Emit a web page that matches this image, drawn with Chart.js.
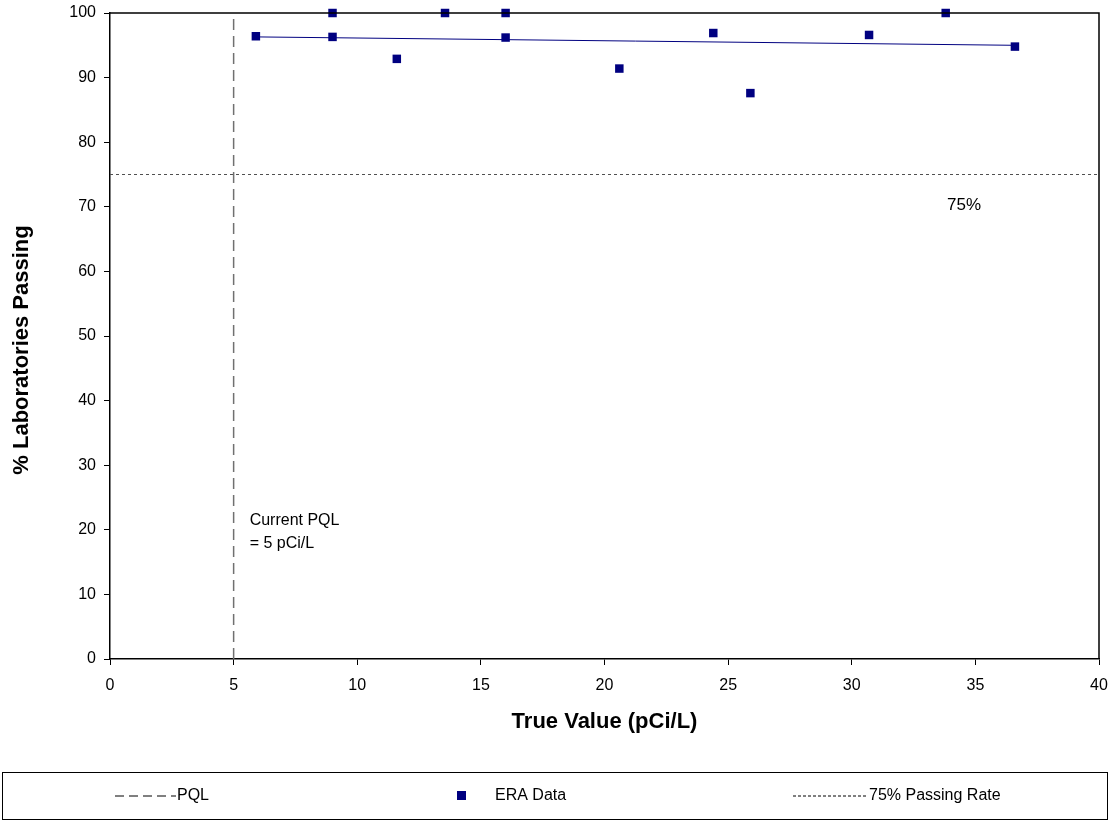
<!DOCTYPE html>
<html>
<head>
<meta charset="utf-8">
<script src="https://cdn.jsdelivr.net/npm/chart.js@4.4.0/dist/chart.umd.min.js"></script>
<style>
  html, body { margin: 0; padding: 0; background: #fff; }
  #wrap { width: 1112px; height: 821px; position: relative; }
</style>
</head>
<body>
<div id="wrap"><canvas id="canvas"></canvas></div>
<script>
  // ---- data ----
  const eraX = [5.9, 9.0, 9.0, 11.6, 13.55, 16.0, 16.0, 20.6, 24.4, 25.9, 30.7, 33.8, 36.6];
  const eraY = [96.4, 100, 96.3, 92.9, 100, 100, 96.2, 91.4, 96.9, 87.6, 96.6, 100, 94.8];
  const trendX = [5.9, 36.6];
  const trendY = [96.3, 95.0];
  const pqlX = [5, 5];
  const pqlY = [0, 100];
  const passX = [0, 40];
  const passY = [75, 75];
  const legendLabels = ['PQL', 'ERA Data', '75% Passing Rate'];
  const yTitle = '% Laboratories Passing';

  const FONT = 'Liberation Sans, Arial, sans-serif';
  const NAVY = '#000080';

  const toPts = (xs, ys) => xs.map((x, i) => ({ x: x, y: ys[i] }));

  // box round plot area, notes, y title and the legend strip at the bottom
  const extras = {
    id: 'extras',
    afterDraw(chart) {
      const c = chart.ctx;
      const a = chart.chartArea;
      const xs = chart.scales.x, ys = chart.scales.y;
      c.save();
      c.strokeStyle = '#000';
      c.lineWidth = 1.5;
      c.beginPath();
      c.moveTo(a.left, a.top);
      c.lineTo(a.right, a.top);
      c.lineTo(a.right, a.bottom);
      c.stroke();

      c.fillStyle = '#000';
      c.font = '16px ' + FONT;
      c.textBaseline = 'middle';
      c.textAlign = 'left';
      c.fillText('Current PQL', xs.getPixelForValue(5) + 16, ys.getPixelForValue(21.4));
      c.fillText('= 5 pCi/L', xs.getPixelForValue(5) + 16, ys.getPixelForValue(17.8));
      c.font = '17px ' + FONT;
      c.fillText('75%', 947, ys.getPixelForValue(70.3));

      // y axis title, a bit below the middle as in the original
      c.save();
      c.translate(22, 350);
      c.rotate(-Math.PI / 2);
      c.textAlign = 'center';
      c.font = 'bold 22px ' + FONT;
      c.fillText(yTitle, 0, 0);
      c.restore();

      // legend
      c.lineWidth = 1;
      c.strokeStyle = '#000';
      c.strokeRect(2.5, 772.5, 1105, 47);
      c.font = '16px ' + FONT;
      const ly = 796;
      c.strokeStyle = '#000';
      c.setLineDash([9, 5]);
      c.beginPath(); c.moveTo(115, ly); c.lineTo(176, ly); c.stroke();
      c.fillText(legendLabels[0], 177, ly);
      c.setLineDash([]);
      c.fillStyle = NAVY;
      c.fillRect(457, ly - 5, 9, 9);
      c.fillStyle = '#000';
      c.fillText(legendLabels[1], 495, ly);
      c.setLineDash([3, 2]);
      c.beginPath(); c.moveTo(793, ly); c.lineTo(868, ly); c.stroke();
      c.setLineDash([]);
      c.fillText(legendLabels[2], 869, ly);
      c.restore();
    }
  };

  const ctx = document.getElementById('canvas').getContext('2d');

  const myChart = new Chart(ctx, {
    type: 'scatter',
    data: {
      datasets: [{
        label: 'PQL',
        data: toPts(pqlX, pqlY),
        showLine: true,
        borderColor: '#707070',
        borderWidth: 1.5,
        borderDash: [11, 6],
        pointRadius: 0,
        order: 3
      },
      {
        label: '75% Passing Rate',
        data: toPts(passX, passY),
        showLine: true,
        borderColor: '#505050',
        borderWidth: 1,
        borderDash: [3, 3],
        pointRadius: 0,
        order: 3
      },
      {
        label: 'trend',
        data: toPts(trendX, trendY),
        showLine: true,
        borderColor: NAVY,
        borderWidth: 1,
        pointRadius: 0,
        order: 2
      },
      {
        label: 'ERA Data',
        data: toPts(eraX, eraY),
        pointStyle: 'rect',
        pointRadius: 6,
        pointBackgroundColor: NAVY,
        pointBorderColor: NAVY,
        pointBorderWidth: 0,
        clip: false,
        order: 1
      }]
    },
    options: {
      responsive: true,
      maintainAspectRatio: false,
      animation: false,
      layout: { padding: { top: 13, right: 13, left: 0, bottom: 82 } },
      plugins: {
        legend: { display: false },
        tooltip: { enabled: false }
      },
      scales: {
        x: {
          type: 'linear',
          min: 0,
          max: 40,
          ticks: { stepSize: 5, color: '#000', font: { family: FONT, size: 16 }, padding: 11 },
          grid: { display: true, drawOnChartArea: false, color: '#000', tickLength: 6 },
          border: { color: '#000', width: 1.5 },
          title: { display: true, text: 'True Value (pCi/L)', color: '#000',
                   font: { family: FONT, size: 22, weight: 'bold' }, padding: { top: 10, bottom: 4 } },
          afterFit(s) { s.height = 80; s.paddingLeft = 0; s.paddingRight = 0; }
        },
        y: {
          min: 0,
          max: 100,
          ticks: { stepSize: 10, color: '#000', font: { family: FONT, size: 16 }, padding: 8 },
          grid: { display: true, drawOnChartArea: false, color: '#000', tickLength: 6 },
          border: { color: '#000', width: 1.5 },
          afterFit(s) { s.width = 110; s.paddingTop = 0; s.paddingBottom = 0; }
        }
      }
    },
    plugins: [extras]
  });
</script>
</body>
</html>
